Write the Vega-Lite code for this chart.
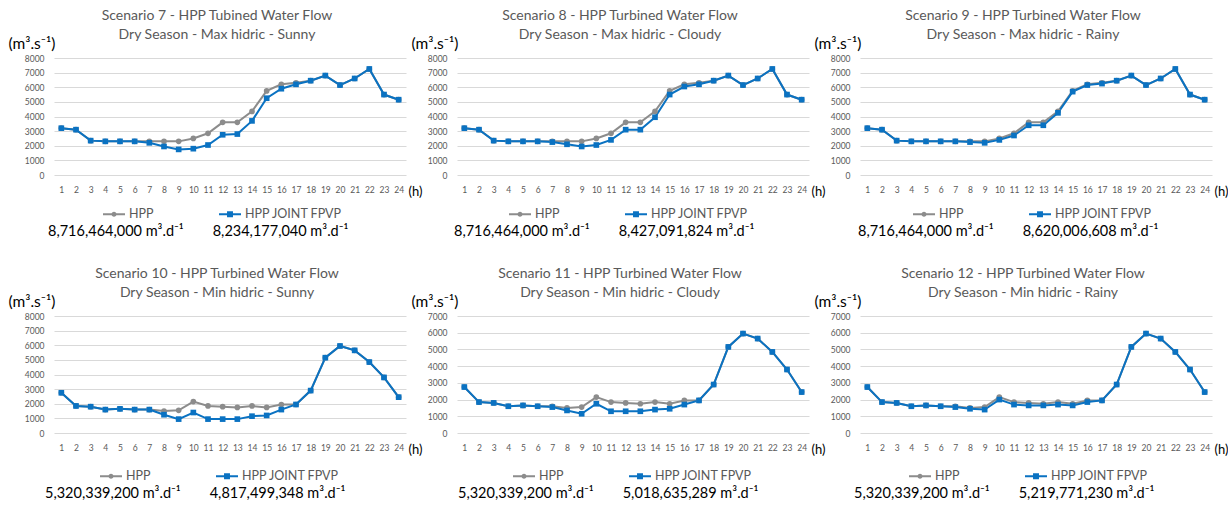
{
"$schema": "https://vega.github.io/schema/vega-lite/v6.json",
"padding": {"left": 8, "top": 9, "right": 0, "bottom": 0},
"background": "white",
"datasets": {"flow": [
{"p":7,"h":1,"hpp":3200,"fpvp":3200},{"p":7,"h":2,"hpp":3100,"fpvp":3100},{"p":7,"h":3,"hpp":2350,"fpvp":2350},{"p":7,"h":4,"hpp":2300,"fpvp":2300},{"p":7,"h":5,"hpp":2300,"fpvp":2300},{"p":7,"h":6,"hpp":2300,"fpvp":2300},{"p":7,"h":7,"hpp":2300,"fpvp":2200},{"p":7,"h":8,"hpp":2300,"fpvp":1950},{"p":7,"h":9,"hpp":2300,"fpvp":1750},{"p":7,"h":10,"hpp":2500,"fpvp":1800},{"p":7,"h":11,"hpp":2850,"fpvp":2050},{"p":7,"h":12,"hpp":3600,"fpvp":2750},{"p":7,"h":13,"hpp":3600,"fpvp":2800},{"p":7,"h":14,"hpp":4350,"fpvp":3700},{"p":7,"h":15,"hpp":5750,"fpvp":5250},{"p":7,"h":16,"hpp":6200,"fpvp":5900},{"p":7,"h":17,"hpp":6300,"fpvp":6200},{"p":7,"h":18,"hpp":6450,"fpvp":6450},{"p":7,"h":19,"hpp":6800,"fpvp":6800},{"p":7,"h":20,"hpp":6150,"fpvp":6150},{"p":7,"h":21,"hpp":6600,"fpvp":6600},{"p":7,"h":22,"hpp":7250,"fpvp":7250},{"p":7,"h":23,"hpp":5500,"fpvp":5500},{"p":7,"h":24,"hpp":5150,"fpvp":5150},
{"p":8,"h":1,"hpp":3200,"fpvp":3200},{"p":8,"h":2,"hpp":3100,"fpvp":3100},{"p":8,"h":3,"hpp":2350,"fpvp":2350},{"p":8,"h":4,"hpp":2300,"fpvp":2300},{"p":8,"h":5,"hpp":2300,"fpvp":2300},{"p":8,"h":6,"hpp":2300,"fpvp":2300},{"p":8,"h":7,"hpp":2300,"fpvp":2250},{"p":8,"h":8,"hpp":2300,"fpvp":2100},{"p":8,"h":9,"hpp":2300,"fpvp":1950},{"p":8,"h":10,"hpp":2500,"fpvp":2050},{"p":8,"h":11,"hpp":2850,"fpvp":2400},{"p":8,"h":12,"hpp":3600,"fpvp":3100},{"p":8,"h":13,"hpp":3600,"fpvp":3100},{"p":8,"h":14,"hpp":4350,"fpvp":3950},{"p":8,"h":15,"hpp":5750,"fpvp":5500},{"p":8,"h":16,"hpp":6200,"fpvp":6050},{"p":8,"h":17,"hpp":6300,"fpvp":6200},{"p":8,"h":18,"hpp":6450,"fpvp":6450},{"p":8,"h":19,"hpp":6800,"fpvp":6800},{"p":8,"h":20,"hpp":6150,"fpvp":6150},{"p":8,"h":21,"hpp":6600,"fpvp":6600},{"p":8,"h":22,"hpp":7250,"fpvp":7250},{"p":8,"h":23,"hpp":5500,"fpvp":5500},{"p":8,"h":24,"hpp":5150,"fpvp":5150},
{"p":9,"h":1,"hpp":3200,"fpvp":3200},{"p":9,"h":2,"hpp":3100,"fpvp":3100},{"p":9,"h":3,"hpp":2350,"fpvp":2350},{"p":9,"h":4,"hpp":2300,"fpvp":2300},{"p":9,"h":5,"hpp":2300,"fpvp":2300},{"p":9,"h":6,"hpp":2300,"fpvp":2300},{"p":9,"h":7,"hpp":2300,"fpvp":2300},{"p":9,"h":8,"hpp":2300,"fpvp":2250},{"p":9,"h":9,"hpp":2300,"fpvp":2200},{"p":9,"h":10,"hpp":2500,"fpvp":2400},{"p":9,"h":11,"hpp":2850,"fpvp":2700},{"p":9,"h":12,"hpp":3600,"fpvp":3400},{"p":9,"h":13,"hpp":3600,"fpvp":3400},{"p":9,"h":14,"hpp":4350,"fpvp":4250},{"p":9,"h":15,"hpp":5750,"fpvp":5700},{"p":9,"h":16,"hpp":6200,"fpvp":6150},{"p":9,"h":17,"hpp":6300,"fpvp":6250},{"p":9,"h":18,"hpp":6450,"fpvp":6450},{"p":9,"h":19,"hpp":6800,"fpvp":6800},{"p":9,"h":20,"hpp":6150,"fpvp":6150},{"p":9,"h":21,"hpp":6600,"fpvp":6600},{"p":9,"h":22,"hpp":7250,"fpvp":7250},{"p":9,"h":23,"hpp":5500,"fpvp":5500},{"p":9,"h":24,"hpp":5150,"fpvp":5150},
{"p":10,"h":1,"hpp":2750,"fpvp":2750},{"p":10,"h":2,"hpp":1850,"fpvp":1850},{"p":10,"h":3,"hpp":1800,"fpvp":1800},{"p":10,"h":4,"hpp":1600,"fpvp":1600},{"p":10,"h":5,"hpp":1650,"fpvp":1650},{"p":10,"h":6,"hpp":1600,"fpvp":1600},{"p":10,"h":7,"hpp":1600,"fpvp":1600},{"p":10,"h":8,"hpp":1500,"fpvp":1250},{"p":10,"h":9,"hpp":1550,"fpvp":950},{"p":10,"h":10,"hpp":2150,"fpvp":1400},{"p":10,"h":11,"hpp":1850,"fpvp":950},{"p":10,"h":12,"hpp":1800,"fpvp":950},{"p":10,"h":13,"hpp":1750,"fpvp":950},{"p":10,"h":14,"hpp":1850,"fpvp":1150},{"p":10,"h":15,"hpp":1750,"fpvp":1200},{"p":10,"h":16,"hpp":1950,"fpvp":1600},{"p":10,"h":17,"hpp":1950,"fpvp":1950},{"p":10,"h":18,"hpp":2900,"fpvp":2900},{"p":10,"h":19,"hpp":5150,"fpvp":5150},{"p":10,"h":20,"hpp":5950,"fpvp":5950},{"p":10,"h":21,"hpp":5650,"fpvp":5650},{"p":10,"h":22,"hpp":4850,"fpvp":4850},{"p":10,"h":23,"hpp":3800,"fpvp":3800},{"p":10,"h":24,"hpp":2450,"fpvp":2450},
{"p":11,"h":1,"hpp":2750,"fpvp":2750},{"p":11,"h":2,"hpp":1850,"fpvp":1850},{"p":11,"h":3,"hpp":1800,"fpvp":1800},{"p":11,"h":4,"hpp":1600,"fpvp":1600},{"p":11,"h":5,"hpp":1650,"fpvp":1650},{"p":11,"h":6,"hpp":1600,"fpvp":1600},{"p":11,"h":7,"hpp":1600,"fpvp":1550},{"p":11,"h":8,"hpp":1500,"fpvp":1350},{"p":11,"h":9,"hpp":1550,"fpvp":1150},{"p":11,"h":10,"hpp":2150,"fpvp":1750},{"p":11,"h":11,"hpp":1850,"fpvp":1300},{"p":11,"h":12,"hpp":1800,"fpvp":1300},{"p":11,"h":13,"hpp":1750,"fpvp":1300},{"p":11,"h":14,"hpp":1850,"fpvp":1400},{"p":11,"h":15,"hpp":1750,"fpvp":1450},{"p":11,"h":16,"hpp":1950,"fpvp":1700},{"p":11,"h":17,"hpp":1950,"fpvp":1950},{"p":11,"h":18,"hpp":2900,"fpvp":2900},{"p":11,"h":19,"hpp":5150,"fpvp":5150},{"p":11,"h":20,"hpp":5950,"fpvp":5950},{"p":11,"h":21,"hpp":5650,"fpvp":5650},{"p":11,"h":22,"hpp":4850,"fpvp":4850},{"p":11,"h":23,"hpp":3800,"fpvp":3800},{"p":11,"h":24,"hpp":2450,"fpvp":2450},
{"p":12,"h":1,"hpp":2750,"fpvp":2750},{"p":12,"h":2,"hpp":1850,"fpvp":1850},{"p":12,"h":3,"hpp":1800,"fpvp":1800},{"p":12,"h":4,"hpp":1600,"fpvp":1600},{"p":12,"h":5,"hpp":1650,"fpvp":1650},{"p":12,"h":6,"hpp":1600,"fpvp":1600},{"p":12,"h":7,"hpp":1600,"fpvp":1550},{"p":12,"h":8,"hpp":1500,"fpvp":1450},{"p":12,"h":9,"hpp":1550,"fpvp":1400},{"p":12,"h":10,"hpp":2150,"fpvp":2000},{"p":12,"h":11,"hpp":1850,"fpvp":1700},{"p":12,"h":12,"hpp":1800,"fpvp":1650},{"p":12,"h":13,"hpp":1750,"fpvp":1650},{"p":12,"h":14,"hpp":1850,"fpvp":1700},{"p":12,"h":15,"hpp":1750,"fpvp":1650},{"p":12,"h":16,"hpp":1950,"fpvp":1850},{"p":12,"h":17,"hpp":1950,"fpvp":1950},{"p":12,"h":18,"hpp":2900,"fpvp":2900},{"p":12,"h":19,"hpp":5150,"fpvp":5150},{"p":12,"h":20,"hpp":5950,"fpvp":5950},{"p":12,"h":21,"hpp":5650,"fpvp":5650},{"p":12,"h":22,"hpp":4850,"fpvp":4850},{"p":12,"h":23,"hpp":3800,"fpvp":3800},{"p":12,"h":24,"hpp":2450,"fpvp":2450}
]},
"bounds": "flush",
"columns": 3,
"spacing": {"row": 141, "column": 51},
"resolve": {"scale": {"color": "independent", "x": "independent", "y": "independent"}, "legend": {"color": "independent"}},
"concat": [
{"width": 352, "height": 117,
 "title": {"text": ["Scenario 7 - HPP Tubined Water Flow", "Dry Season - Max hidric - Sunny"]},
 "data": {"name": "flow"},
 "transform": [{"filter": "datum.p == 7"}, {"fold": ["hpp", "fpvp"], "as": ["series", "flow"]}],
 "encoding": {
  "x": {"field": "h", "type": "ordinal", "title": "(h)"},
  "y": {"field": "flow", "type": "quantitative", "title": "(m³.s⁻¹)", "scale": {"domain": [0, 8000]}, "axis": {"values": [0,1000,2000,3000,4000,5000,6000,7000,8000]}}
 },
 "layer": [
  {"mark": {"type": "line", "strokeWidth": 2}, "encoding": {"color": {"field": "series", "type": "nominal", "scale": {"domain": ["hpp", "fpvp"], "range": ["#8c8c8c", "#0a72c2"]},
   "legend": {"title": "8,716,464,000 m³.d⁻¹\u2002\u2002\u2002\u20028,234,177,040 m³.d⁻¹", "legendX": -6, "legendY": 144,
    "labelExpr": "datum.value === 'hpp' ? 'HPP' : 'HPP JOINT FPVP'",
    "encoding": {"symbols": {
     "shape": {"condition": {"test": "datum.value === 'hpp'", "value": "M-1,0H1M-0.14,0A0.14,0.14,0,1,0,0.14,0A0.14,0.14,0,1,0,-0.14,0Z"}, "value": "M-1,0H1M-0.18,-0.18H0.18V0.18H-0.18Z"},
     "fill": {"condition": {"test": "datum.value === 'hpp'", "value": "#8c8c8c"}, "value": "#0a72c2"},
     "stroke": {"condition": {"test": "datum.value === 'hpp'", "value": "#8c8c8c"}, "value": "#0a72c2"}}}}}}},
  {"transform": [{"filter": "datum.series === 'hpp'"}], "mark": {"type": "point", "shape": "circle", "filled": true, "opacity": 1, "size": 32, "color": "#8c8c8c"}},
  {"transform": [{"filter": "datum.series === 'fpvp'"}], "mark": {"type": "point", "shape": "square", "filled": true, "opacity": 1, "size": 32, "color": "#0a72c2"}}
 ]
},
{"width": 352, "height": 117,
 "title": {"text": ["Scenario 8 - HPP Turbined Water Flow", "Dry Season - Max hidric - Cloudy"]},
 "data": {"name": "flow"},
 "transform": [{"filter": "datum.p == 8"}, {"fold": ["hpp", "fpvp"], "as": ["series", "flow"]}],
 "encoding": {
  "x": {"field": "h", "type": "ordinal", "title": "(h)"},
  "y": {"field": "flow", "type": "quantitative", "title": "(m³.s⁻¹)", "scale": {"domain": [0, 8000]}, "axis": {"values": [0,1000,2000,3000,4000,5000,6000,7000,8000]}}
 },
 "layer": [
  {"mark": {"type": "line", "strokeWidth": 2}, "encoding": {"color": {"field": "series", "type": "nominal", "scale": {"domain": ["hpp", "fpvp"], "range": ["#8c8c8c", "#0a72c2"]},
   "legend": {"title": "8,716,464,000 m³.d⁻¹\u2002\u2002\u2002\u20028,427,091,824 m³.d⁻¹", "legendX": -3, "legendY": 144,
    "labelExpr": "datum.value === 'hpp' ? 'HPP' : 'HPP JOINT FPVP'",
    "encoding": {"symbols": {
     "shape": {"condition": {"test": "datum.value === 'hpp'", "value": "M-1,0H1M-0.14,0A0.14,0.14,0,1,0,0.14,0A0.14,0.14,0,1,0,-0.14,0Z"}, "value": "M-1,0H1M-0.18,-0.18H0.18V0.18H-0.18Z"},
     "fill": {"condition": {"test": "datum.value === 'hpp'", "value": "#8c8c8c"}, "value": "#0a72c2"},
     "stroke": {"condition": {"test": "datum.value === 'hpp'", "value": "#8c8c8c"}, "value": "#0a72c2"}}}}}}},
  {"transform": [{"filter": "datum.series === 'hpp'"}], "mark": {"type": "point", "shape": "circle", "filled": true, "opacity": 1, "size": 32, "color": "#8c8c8c"}},
  {"transform": [{"filter": "datum.series === 'fpvp'"}], "mark": {"type": "point", "shape": "square", "filled": true, "opacity": 1, "size": 32, "color": "#0a72c2"}}
 ]
},
{"width": 352, "height": 117,
 "title": {"text": ["Scenario 9 - HPP Turbined Water Flow", "Dry Season - Max hidric - Rainy"]},
 "data": {"name": "flow"},
 "transform": [{"filter": "datum.p == 9"}, {"fold": ["hpp", "fpvp"], "as": ["series", "flow"]}],
 "encoding": {
  "x": {"field": "h", "type": "ordinal", "title": "(h)"},
  "y": {"field": "flow", "type": "quantitative", "title": "(m³.s⁻¹)", "scale": {"domain": [0, 8000]}, "axis": {"values": [0,1000,2000,3000,4000,5000,6000,7000,8000]}}
 },
 "layer": [
  {"mark": {"type": "line", "strokeWidth": 2}, "encoding": {"color": {"field": "series", "type": "nominal", "scale": {"domain": ["hpp", "fpvp"], "range": ["#8c8c8c", "#0a72c2"]},
   "legend": {"title": "8,716,464,000 m³.d⁻¹\u2002\u2002\u2002\u20028,620,006,608 m³.d⁻¹", "legendX": -2, "legendY": 144,
    "labelExpr": "datum.value === 'hpp' ? 'HPP' : 'HPP JOINT FPVP'",
    "encoding": {"symbols": {
     "shape": {"condition": {"test": "datum.value === 'hpp'", "value": "M-1,0H1M-0.14,0A0.14,0.14,0,1,0,0.14,0A0.14,0.14,0,1,0,-0.14,0Z"}, "value": "M-1,0H1M-0.18,-0.18H0.18V0.18H-0.18Z"},
     "fill": {"condition": {"test": "datum.value === 'hpp'", "value": "#8c8c8c"}, "value": "#0a72c2"},
     "stroke": {"condition": {"test": "datum.value === 'hpp'", "value": "#8c8c8c"}, "value": "#0a72c2"}}}}}}},
  {"transform": [{"filter": "datum.series === 'hpp'"}], "mark": {"type": "point", "shape": "circle", "filled": true, "opacity": 1, "size": 32, "color": "#8c8c8c"}},
  {"transform": [{"filter": "datum.series === 'fpvp'"}], "mark": {"type": "point", "shape": "square", "filled": true, "opacity": 1, "size": 32, "color": "#0a72c2"}}
 ]
},
{"width": 352, "height": 117,
 "title": {"text": ["Scenario 10 - HPP Turbined Water Flow", "Dry Season - Min hidric - Sunny"]},
 "data": {"name": "flow"},
 "transform": [{"filter": "datum.p == 10"}, {"fold": ["hpp", "fpvp"], "as": ["series", "flow"]}],
 "encoding": {
  "x": {"field": "h", "type": "ordinal", "title": "(h)"},
  "y": {"field": "flow", "type": "quantitative", "title": "(m³.s⁻¹)", "scale": {"domain": [0, 8000]}, "axis": {"values": [0,1000,2000,3000,4000,5000,6000,7000,8000]}}
 },
 "layer": [
  {"mark": {"type": "line", "strokeWidth": 2}, "encoding": {"color": {"field": "series", "type": "nominal", "scale": {"domain": ["hpp", "fpvp"], "range": ["#8c8c8c", "#0a72c2"]},
   "legend": {"title": "5,320,339,200 m³.d⁻¹\u2002\u2002\u2002\u20024,817,499,348 m³.d⁻¹", "legendX": -9, "legendY": 148,
    "labelExpr": "datum.value === 'hpp' ? 'HPP' : 'HPP JOINT FPVP'",
    "encoding": {"symbols": {
     "shape": {"condition": {"test": "datum.value === 'hpp'", "value": "M-1,0H1M-0.14,0A0.14,0.14,0,1,0,0.14,0A0.14,0.14,0,1,0,-0.14,0Z"}, "value": "M-1,0H1M-0.18,-0.18H0.18V0.18H-0.18Z"},
     "fill": {"condition": {"test": "datum.value === 'hpp'", "value": "#8c8c8c"}, "value": "#0a72c2"},
     "stroke": {"condition": {"test": "datum.value === 'hpp'", "value": "#8c8c8c"}, "value": "#0a72c2"}}}}}}},
  {"transform": [{"filter": "datum.series === 'hpp'"}], "mark": {"type": "point", "shape": "circle", "filled": true, "opacity": 1, "size": 32, "color": "#8c8c8c"}},
  {"transform": [{"filter": "datum.series === 'fpvp'"}], "mark": {"type": "point", "shape": "square", "filled": true, "opacity": 1, "size": 32, "color": "#0a72c2"}}
 ]
},
{"width": 352, "height": 117,
 "title": {"text": ["Scenario 11 - HPP Turbined Water Flow", "Dry Season - Min hidric - Cloudy"]},
 "data": {"name": "flow"},
 "transform": [{"filter": "datum.p == 11"}, {"fold": ["hpp", "fpvp"], "as": ["series", "flow"]}],
 "encoding": {
  "x": {"field": "h", "type": "ordinal", "title": "(h)"},
  "y": {"field": "flow", "type": "quantitative", "title": "(m³.s⁻¹)", "scale": {"domain": [0, 7000]}, "axis": {"values": [0,1000,2000,3000,4000,5000,6000,7000]}}
 },
 "layer": [
  {"mark": {"type": "line", "strokeWidth": 2}, "encoding": {"color": {"field": "series", "type": "nominal", "scale": {"domain": ["hpp", "fpvp"], "range": ["#8c8c8c", "#0a72c2"]},
   "legend": {"title": "5,320,339,200 m³.d⁻¹\u2002\u2002\u2002\u20025,018,635,289 m³.d⁻¹", "legendX": 1, "legendY": 148,
    "labelExpr": "datum.value === 'hpp' ? 'HPP' : 'HPP JOINT FPVP'",
    "encoding": {"symbols": {
     "shape": {"condition": {"test": "datum.value === 'hpp'", "value": "M-1,0H1M-0.14,0A0.14,0.14,0,1,0,0.14,0A0.14,0.14,0,1,0,-0.14,0Z"}, "value": "M-1,0H1M-0.18,-0.18H0.18V0.18H-0.18Z"},
     "fill": {"condition": {"test": "datum.value === 'hpp'", "value": "#8c8c8c"}, "value": "#0a72c2"},
     "stroke": {"condition": {"test": "datum.value === 'hpp'", "value": "#8c8c8c"}, "value": "#0a72c2"}}}}}}},
  {"transform": [{"filter": "datum.series === 'hpp'"}], "mark": {"type": "point", "shape": "circle", "filled": true, "opacity": 1, "size": 32, "color": "#8c8c8c"}},
  {"transform": [{"filter": "datum.series === 'fpvp'"}], "mark": {"type": "point", "shape": "square", "filled": true, "opacity": 1, "size": 32, "color": "#0a72c2"}}
 ]
},
{"width": 352, "height": 117,
 "title": {"text": ["Scenario 12 - HPP Turbined Water Flow", "Dry Season - Min hidric - Rainy"]},
 "data": {"name": "flow"},
 "transform": [{"filter": "datum.p == 12"}, {"fold": ["hpp", "fpvp"], "as": ["series", "flow"]}],
 "encoding": {
  "x": {"field": "h", "type": "ordinal", "title": "(h)"},
  "y": {"field": "flow", "type": "quantitative", "title": "(m³.s⁻¹)", "scale": {"domain": [0, 7000]}, "axis": {"values": [0,1000,2000,3000,4000,5000,6000,7000]}}
 },
 "layer": [
  {"mark": {"type": "line", "strokeWidth": 2}, "encoding": {"color": {"field": "series", "type": "nominal", "scale": {"domain": ["hpp", "fpvp"], "range": ["#8c8c8c", "#0a72c2"]},
   "legend": {"title": "5,320,339,200 m³.d⁻¹\u2002\u2002\u2002\u20025,219,771,230 m³.d⁻¹", "legendX": -6, "legendY": 148,
    "labelExpr": "datum.value === 'hpp' ? 'HPP' : 'HPP JOINT FPVP'",
    "encoding": {"symbols": {
     "shape": {"condition": {"test": "datum.value === 'hpp'", "value": "M-1,0H1M-0.14,0A0.14,0.14,0,1,0,0.14,0A0.14,0.14,0,1,0,-0.14,0Z"}, "value": "M-1,0H1M-0.18,-0.18H0.18V0.18H-0.18Z"},
     "fill": {"condition": {"test": "datum.value === 'hpp'", "value": "#8c8c8c"}, "value": "#0a72c2"},
     "stroke": {"condition": {"test": "datum.value === 'hpp'", "value": "#8c8c8c"}, "value": "#0a72c2"}}}}}}},
  {"transform": [{"filter": "datum.series === 'hpp'"}], "mark": {"type": "point", "shape": "circle", "filled": true, "opacity": 1, "size": 32, "color": "#8c8c8c"}},
  {"transform": [{"filter": "datum.series === 'fpvp'"}], "mark": {"type": "point", "shape": "square", "filled": true, "opacity": 1, "size": 32, "color": "#0a72c2"}}
 ]
}
],
"config": {
 "font": "Lato",
 "view": {"stroke": null},
 "title": {"fontSize": 14, "fontWeight": "normal", "color": "#595959", "anchor": "middle", "frame": "group", "dx": -13, "lineHeight": 19, "offset": -6, "font": "Lato"},
 "axis": {"labelFont": "Lato", "labelColor": "#595959", "labelFontSize": 8.5, "ticks": false, "domain": false, "titleFontWeight": "normal", "titleColor": "#000000", "titleFont": "Lato, DejaVu Sans"},
 "axisX": {"grid": false, "labelAngle": 0, "labelPadding": 10, "titleX": 354, "titleY": 16, "titleAlign": "left", "titleBaseline": "middle", "titleFontSize": 13, "titlePadding": 0},
 "axisY": {"grid": true, "gridColor": "#d9d9d9", "gridWidth": 1, "labelPadding": 10, "format": "d", "titleAngle": 0, "titleX": -46, "titleY": -15, "titleAlign": "left", "titleBaseline": "middle", "titleFontSize": 15.5},
 "legend": {"orient": "none", "direction": "horizontal", "titleOrient": "bottom", "titleAnchor": "start", "titleFontSize": 14.5, "titleFontWeight": "normal", "titleColor": "#000000", "titleFont": "Lato, DejaVu Sans", "titlePadding": 4, "titleLimit": 500, "labelFontSize": 12.5, "labelColor": "#595959", "labelFont": "Lato", "labelOffset": 3, "symbolSize": 484, "symbolStrokeWidth": 2, "symbolOffset": 54, "columnPadding": 10, "padding": 0, "symbolType": "M-1,0H1M-0.14,0A0.14,0.14,0,1,0,0.14,0A0.14,0.14,0,1,0,-0.14,0Z"}
}
}
